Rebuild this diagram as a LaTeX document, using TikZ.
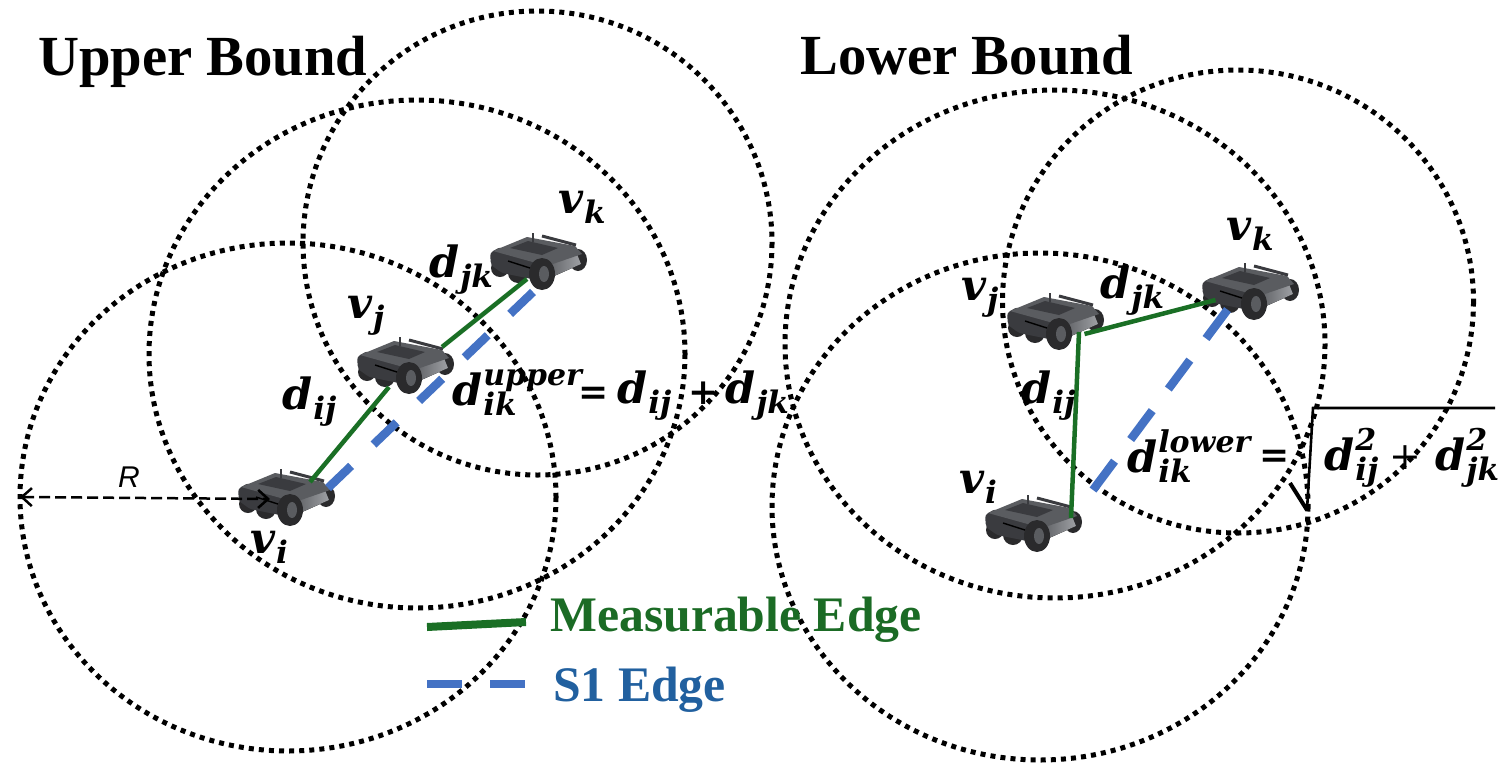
\documentclass[tikz,border=0pt]{standalone}
\usepackage{fontspec}
\setmainfont{Liberation Serif}
\newfontfamily\rfont{Liberation Sans}
\newfontfamily\mfont{DejaVu Serif}
\usetikzlibrary{arrows.meta}
\definecolor{edgegreen}{HTML}{1A6F25}
\definecolor{edgeblue}{HTML}{4472C4}
\definecolor{textgreen}{HTML}{1B6B25}
\definecolor{textblue}{HTML}{21609F}
\definecolor{rdark}{HTML}{3A3B3F}
\definecolor{rmid}{HTML}{5A5C60}
\definecolor{rlight}{HTML}{9EA0A4}
\definecolor{rwheel}{HTML}{2A2A2C}
\newsavebox{\msubbox}
\newsavebox{\msupbox}
\newcommand{\msym}[3]{%
  {\mfont\bfseries\itshape
   \sbox{\msubbox}{\raisebox{-10pt}{\fontsize{31}{33}\selectfont #2}}%
   \sbox{\msupbox}{\raisebox{20pt}{\fontsize{30}{32}\selectfont #3}}%
   \fontsize{43}{46}\selectfont #1\kern1pt
   \ifdim\wd\msubbox>\wd\msupbox\rlap{\usebox{\msupbox}}\usebox{\msubbox}%
   \else\rlap{\usebox{\msubbox}}\usebox{\msupbox}\fi}}
\tikzset{
  commrange/.style={draw=black,line width=5pt,dash pattern=on 5pt off 5.1pt},
  mlabel/.style={inner sep=0pt,anchor=base west},
  opsign/.style={inner sep=0pt,anchor=base west,font=\fontsize{36}{38}\selectfont\mfont\bfseries},
  titletext/.style={font=\fontsize{56.7}{60}\selectfont\bfseries,inner sep=0pt,anchor=base west},
  legendtext/.style={font=\fontsize{49.7}{54}\selectfont\bfseries,inner sep=0pt,anchor=base west},
  meas/.style={draw=edgegreen,line width=4.5pt},
  sone/.style={draw=edgeblue,line width=8.5pt},
  robot/.pic={
    \fill[rwheel] (88,27) ellipse [x radius=9,y radius=11];
    \fill[rwheel] (10,35) ellipse [x radius=9,y radius=9];
    \fill[rwheel] (28,40) ellipse [x radius=10,y radius=10];
    \fill[rdark,rounded corners=3pt] (0,20) -- (1,32) -- (12,40) -- (47,47) -- (58,32) -- (10,14) -- cycle;
    \fill[left color=rmid,right color=rlight] (55,33) -- (87,21) -- (91,31) -- (62,44) -- cycle;
    \fill[rmid] (3,18) -- (37,4) -- (85,13) -- (92,21) -- (57,33) -- cycle;
    \fill[rdark] (20,15) -- (38,8) -- (68,15) -- (52,22) -- cycle;
    \draw[rdark,line width=3pt] (52,3) -- (86,12);
    \draw[rdark,line width=1.8pt] (43,0) -- (43,9);
    \draw[black,line width=1.4pt] (18,28) -- (43,36);
    \fill[rwheel] (52,41) ellipse [x radius=13,y radius=16];
    \fill[rmid] (54,41) ellipse [x radius=5,y radius=8];
  },
}
\begin{document}
\begin{tikzpicture}[x=1pt,y=-1pt]
\useasboundingbox (0,0) rectangle (1510,763);
% range circles
\draw[commrange] (288,497) ellipse [x radius=268,y radius=254];
\draw[commrange] (417,354) ellipse [x radius=268,y radius=254];
\draw[commrange] (537.5,243) ellipse [x radius=234.5,y radius=232];
\draw[commrange] (1055,344) ellipse [x radius=270,y radius=254];
\draw[commrange] (1238,301.5) ellipse [x radius=235.5,y radius=231.5];
\draw[commrange] (1040,506.5) ellipse [x radius=268,y radius=253.5];
% robots
\pic at (238,469) {robot};
\pic at (357,337) {robot};
\pic at (490,233) {robot};
\pic at (985,495) {robot};
\pic at (1007,293) {robot};
\pic at (1202,263) {robot};
% connector ends
\coordinate (ui) at (310,482);
\coordinate (uja) at (389,387);
\coordinate (ujb) at (442,347);
\coordinate (uk) at (527,279);
\coordinate (usa) at (328,488);
\coordinate (usb) at (533,292);
\coordinate (lja) at (1079,332);
\coordinate (li) at (1071,518);
\coordinate (ljb) at (1084.5,334);
\coordinate (lk) at (1215.5,300);
\coordinate (lsa) at (1093,490);
\coordinate (lsb) at (1228,309);
\coordinate (legma) at (427,627);
\coordinate (legmb) at (526,622);
\coordinate (legsa) at (427,684);
\coordinate (legsb) at (526,684);
\coordinate (ra) at (20,497);
\coordinate (rb) at (270,499);
\coordinate (sqa) at (1290,483);
\coordinate (sqb) at (1307,510);
\coordinate (sqc) at (1313,408);
\coordinate (sqd) at (1495,408);
% edges
\draw[meas] (ui) -- (uja);
\draw[meas] (ujb) -- (uk);
\draw[sone,dash pattern=on 32pt off 31pt] (usa) -- (usb);
\draw[meas] (lja) -- (li);
\draw[meas] (ljb) -- (lk);
\draw[sone,dash pattern=on 36pt off 27pt] (lsa) -- (lsb);
\draw[meas,line width=8pt] (legma) -- (legmb);
\draw[sone,dash pattern=on 35pt off 28pt] (legsa) -- (legsb);
% radius
\draw[line width=2.5pt,dash pattern=on 11pt off 5pt,{Straight Barb[length=10pt,width=18pt,line width=2.5pt]}-{Straight Barb[length=10pt,width=18pt,line width=2.5pt]}] (ra) -- (rb);
% radical
\draw[black,line width=2.6pt] (sqb) -- (sqc) -- (sqd);
\draw[black,line width=4pt] (sqa) -- (sqb);
% text
\node[titletext] (tu) at (38,75) {Upper Bound};
\node[titletext] (tl) at (800,74) {Lower Bound};
\node[legendtext,text=textgreen] (lm) at (550,631) {Measurable Edge};
\node[legendtext,text=textblue] (ls) at (553,701) {S1 Edge};
\node[inner sep=0pt,anchor=base west,font=\fontsize{30}{32}\selectfont\rfont\itshape] (rr) at (118,487) {R};
\node[mlabel] (uvk) at (558,213) {\msym{v}{k}{}};
\node[mlabel] (udjk) at (429,277) {\msym{d}{jk}{}};
\node[mlabel] (uvj) at (347,318) {\msym{v}{j}{}};
\node[mlabel] (udij) at (282,409) {\msym{d}{ij}{}};
\node[mlabel] (uvi) at (250,553) {\msym{v}{i}{}};
\node[mlabel] (udik) at (452,405) {\msym{d}{ik}{upper}};
\node[opsign] (ueq) at (578,404) {=};
\node[mlabel] (uij) at (617,403) {\msym{d}{ij}{}};
\node[opsign] (upl) at (688,404) {+};
\node[mlabel] (ujk) at (725,403) {\msym{d}{jk}{}};
\node[mlabel] (lvk) at (1226,240) {\msym{v}{k}{}};
\node[mlabel] (ldjk) at (1100,298) {\msym{d}{jk}{}};
\node[mlabel] (lvj) at (961,300) {\msym{v}{j}{}};
\node[mlabel] (ldij) at (1021,403) {\msym{d}{ij}{}};
\node[mlabel] (lvi) at (959,493) {\msym{v}{i}{}};
\node[mlabel] (ldik) at (1127,472) {\msym{d}{ik}{lower}};
\node[opsign] (leq) at (1259,467) {=};
\node[mlabel] (lij) at (1324,470) {\msym{d}{ij}{2}};
\node[opsign,font=\fontsize{38}{40}\selectfont\mfont] (lpl) at (1389,469) {+};
\node[mlabel] (ljk) at (1435,470) {\msym{d}{jk}{2}};
\end{tikzpicture}
\end{document}
